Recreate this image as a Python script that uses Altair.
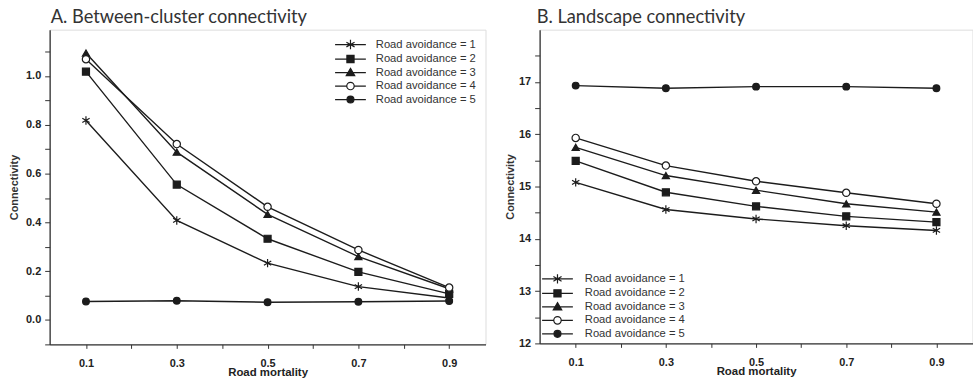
import altair as alt
import pandas as pd

# Road mortality levels on the x axis
mortality = [0.1, 0.3, 0.5, 0.7, 0.9]

series_names = [
    "Road avoidance = 1",
    "Road avoidance = 2",
    "Road avoidance = 3",
    "Road avoidance = 4",
    "Road avoidance = 5",
]

# A. Between-cluster connectivity
between_ra1 = [0.818, 0.408, 0.233, 0.137, 0.090]
between_ra2 = [1.018, 0.555, 0.333, 0.197, 0.107]
between_ra3 = [1.094, 0.688, 0.433, 0.260, 0.128]
between_ra4 = [1.069, 0.721, 0.464, 0.287, 0.133]
between_ra5 = [0.076, 0.079, 0.073, 0.075, 0.078]

# B. Landscape connectivity
landscape_ra1 = [15.08, 14.56, 14.38, 14.25, 14.16]
landscape_ra2 = [15.49, 14.89, 14.62, 14.43, 14.32]
landscape_ra3 = [15.75, 15.21, 14.93, 14.67, 14.51]
landscape_ra4 = [15.93, 15.40, 15.10, 14.88, 14.67]
landscape_ra5 = [16.93, 16.88, 16.91, 16.91, 16.88]

# Tick positions (major + minor); labels are shown on the major ones only
x_ticks = [0.1, 0.2, 0.3, 0.4, 0.5, 0.6, 0.7, 0.8, 0.9]
between_y_ticks = [-0.1, 0.0, 0.1, 0.2, 0.3, 0.4, 0.5, 0.6, 0.7, 0.8, 0.9, 1.0, 1.1]
landscape_y_ticks = [12, 12.5, 13, 13.5, 14, 14.5, 15, 15.5, 16, 16.5, 17, 17.5]

LABEL_FONT = "Liberation Sans"
INK = "#1c1c1c"

# Marker styles used on the data points
ASTERISK = "M0,-1V1M-0.87,-0.5L0.87,0.5M-0.87,0.5L0.87,-0.5"
point_styles = [
    dict(shape=ASTERISK, filled=False, size=72),
    dict(shape="square", filled=True, fill=INK, size=50),
    dict(shape="triangle-up", filled=True, fill=INK, size=52),
    dict(shape="circle", filled=True, fill="white", size=54),
    dict(shape="circle", filled=True, fill=INK, size=46),
]

# Legend glyphs: a short line segment through the marker
legend_paths = [
    "M-3.1,0H3.1M0,-0.95V0.95M-0.82,-0.47L0.82,0.47M-0.82,0.47L0.82,-0.47",
    "M-3.1,0H3.1M-0.72,-0.72H0.72V0.72H-0.72Z",
    "M-3.1,0H3.1M0,-0.85L0.85,0.62H-0.85Z",
    "M-3.1,0H-0.75M0.75,0H3.1M-0.75,0A0.75,0.75 0 1,0 0.75,0A0.75,0.75 0 1,0 -0.75,0Z",
    "M-3.1,0H3.1M-0.7,0A0.7,0.7 0 1,0 0.7,0A0.7,0.7 0 1,0 -0.7,0Z",
]
legend_fills = [INK, INK, INK, "white", INK]
legend_strokes = [INK] * 5


def long_table(columns):
    rows = []
    for name, values in zip(series_names, columns):
        for m, v in zip(mortality, values):
            rows.append({"mortality": m, "value": v, "series": name})
    return pd.DataFrame(rows)


def panel(df, title, title_dx, width, height, y_domain, y_ticks, y_label_expr,
          y_title_x, legend_x, legend_y, legend_label_offset):
    x = alt.X(
        "mortality:Q",
        scale=alt.Scale(domain=[0.02, 0.98], nice=False, zero=False),
        axis=alt.Axis(
            values=x_ticks,
            labelExpr="round(datum.value * 10) % 2 == 1 ? format(datum.value, '.1f') : ''",
            title="Road mortality",
            titleFont=LABEL_FONT, titleFontSize=11.5, titleFontWeight="bold",
            titleColor="#222", titleBaseline="alphabetic", titleY=31.5,
            labelFont=LABEL_FONT, labelFontSize=11, labelFontWeight="bold",
            labelColor="#222", labelPadding=9, labelBaseline="top",
            tickSize=4, tickColor="#333", tickWidth=1,
            domainColor="#333", domainWidth=1.3, grid=False,
        ),
    )
    y = alt.Y(
        "value:Q",
        scale=alt.Scale(domain=y_domain, nice=False, zero=False),
        axis=alt.Axis(
            values=y_ticks,
            labelExpr=y_label_expr,
            title="Connectivity",
            titleFont=LABEL_FONT, titleFontSize=11, titleFontWeight="bold",
            titleColor="#333", titleX=y_title_x,
            labelFont=LABEL_FONT, labelFontSize=11, labelFontWeight="bold",
            labelColor="#222", labelPadding=4,
            tickSize=5, tickColor="#333", tickWidth=1,
            domainColor="#333", domainWidth=1.3, grid=False,
        ),
    )

    base = alt.Chart(df)
    lines = base.mark_line(color=INK, strokeWidth=1.4).encode(
        x=x, y=y, detail="series:N"
    )

    layers = [lines]
    for name, style in zip(series_names, point_styles):
        kw = dict(shape=style["shape"], size=style["size"], stroke=INK,
                  strokeWidth=1.2, opacity=1, filled=style["filled"])
        if style["filled"]:
            kw["fill"] = style["fill"]
        layers.append(
            base.transform_filter(alt.datum.series == name)
            .mark_point(**kw)
            .encode(x=x, y=y)
        )

    legend_props = dict(
        orient="none", legendX=legend_x, legendY=legend_y, title=None,
        padding=0, rowPadding=0.6, symbolSize=100, symbolStrokeWidth=1.2,
        symbolOpacity=1, labelOffset=legend_label_offset, labelFont=LABEL_FONT,
        labelFontSize=11.3, labelColor="#333",
    )
    key = (
        base.transform_filter("datum.mortality < 0")
        .mark_point(filled=True, opacity=1, strokeWidth=1.2, size=100)
        .encode(
            x=x, y=y,
            shape=alt.Shape(
                "series:N",
                scale=alt.Scale(domain=series_names, range=legend_paths),
                legend=alt.Legend(**legend_props),
            ),
            fill=alt.Fill(
                "series:N",
                scale=alt.Scale(domain=series_names, range=legend_fills),
                legend=alt.Legend(**legend_props),
            ),
            stroke=alt.Stroke(
                "series:N",
                scale=alt.Scale(domain=series_names, range=legend_strokes),
                legend=alt.Legend(**legend_props),
            ),
        )
    )
    layers.append(key)

    return alt.layer(*layers).properties(
        width=width,
        height=height,
        title=alt.TitleParams(
            title, anchor="start", frame="group", font="Lato", fontSize=18.4,
            fontWeight="normal", color="#333", baseline="alphabetic",
            offset=-12, dx=title_dx,
        ),
    )


panel_a = panel(
    long_table([between_ra1, between_ra2, between_ra3, between_ra4, between_ra5]),
    "A. Between-cluster connectivity", 1, 439, 317,
    [-0.1, 1.19], between_y_ticks,
    "abs(round(datum.value * 10)) % 2 == 0 ? format(datum.value, '.1f') : ''",
    -30, 297, 9, 19.5,
)
panel_b = panel(
    long_table([landscape_ra1, landscape_ra2, landscape_ra3, landscape_ra4, landscape_ra5]),
    "B. Landscape connectivity", -3, 436, 316,
    [12, 18], landscape_y_ticks,
    "datum.value % 1 == 0 ? format(datum.value, 'd') : ''",
    -24, 12, 245, 21.5,
)

chart = (
    alt.hconcat(panel_a, panel_b, spacing=17.5)
    .resolve_scale(shape="independent", fill="independent", stroke="independent")
    .resolve_legend(shape="independent", fill="independent", stroke="independent")
    .properties(padding={"left": 8, "top": 6.5, "right": 0, "bottom": 0})
    .configure_view(stroke="#666", strokeWidth=1.1)
    .configure(background="white")
)

chart.save("out.html", embed_options={"renderer": "svg", "actions": False})
